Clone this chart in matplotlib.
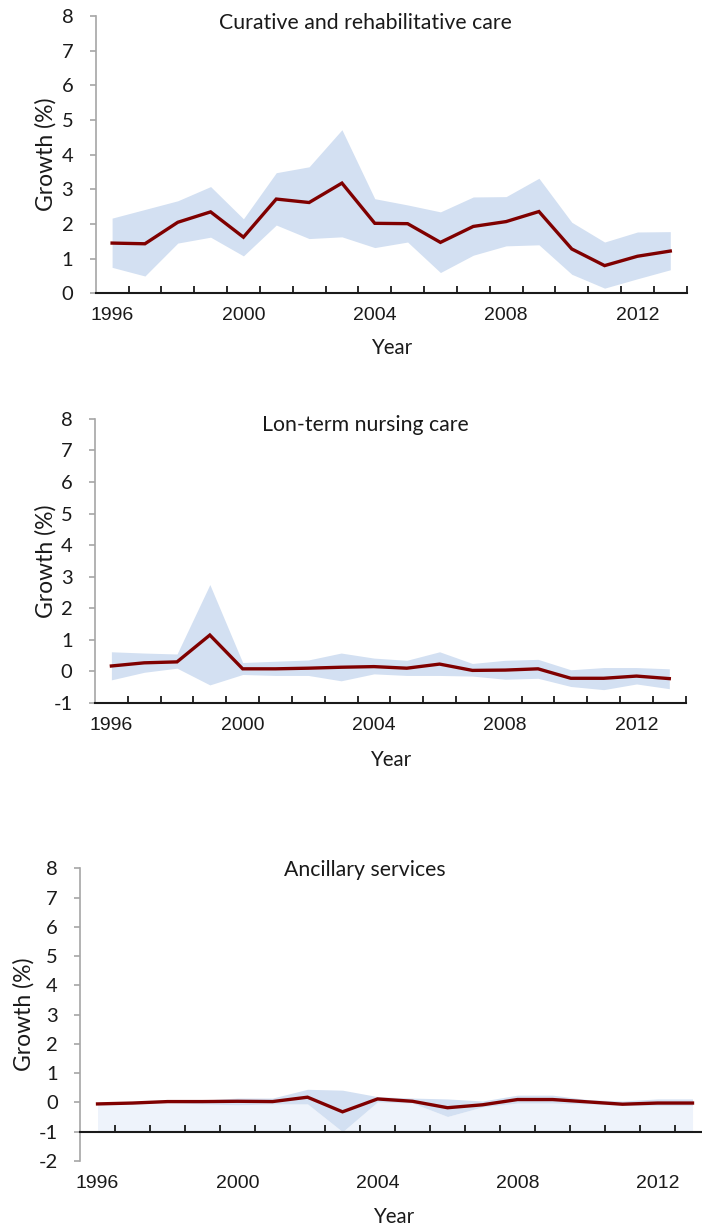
import numpy as np
import matplotlib.pyplot as plt
from matplotlib.ticker import FixedLocator

plt.rcParams['font.family'] = ['Lato', 'DejaVu Sans']
xtick_font = ['Liberation Sans', 'DejaVu Sans']

years = list(range(1996, 2014))
year_labels = ['1996', '2000', '2004', '2008', '2012']

# curative and rehabilitative care
cur_mean = [1.45, 1.43, 2.05, 2.35, 1.62, 2.72, 2.62, 3.18, 2.02, 2.01, 1.47, 1.93, 2.07, 2.36, 1.28, 0.80, 1.07, 1.22]
cur_high = [2.17, 2.42, 2.67, 3.08, 2.15, 3.48, 3.65, 4.72, 2.73, 2.55, 2.35, 2.78, 2.79, 3.32, 2.05, 1.48, 1.77, 1.78]
cur_low = [0.75, 0.50, 1.45, 1.62, 1.08, 1.97, 1.58, 1.63, 1.32, 1.48, 0.60, 1.10, 1.37, 1.40, 0.55, 0.15, 0.42, 0.68]

# long-term nursing care
ltc_mean = [0.17, 0.27, 0.30, 1.15, 0.08, 0.08, 0.10, 0.13, 0.15, 0.10, 0.23, 0.03, 0.04, 0.08, -0.22, -0.22, -0.15, -0.23]
ltc_high = [0.62, 0.58, 0.55, 2.75, 0.28, 0.32, 0.36, 0.58, 0.42, 0.35, 0.62, 0.25, 0.35, 0.38, 0.05, 0.12, 0.12, 0.08]
ltc_low = [-0.27, -0.03, 0.10, -0.43, -0.10, -0.13, -0.13, -0.30, -0.08, -0.13, -0.13, -0.15, -0.25, -0.22, -0.48, -0.58, -0.40, -0.55]

# ancillary services
anc_mean = [-0.05, -0.02, 0.03, 0.03, 0.04, 0.03, 0.18, -0.32, 0.12, 0.04, -0.18, -0.08, 0.10, 0.10, 0.02, -0.06, -0.02, -0.02]
anc_high = [-0.02, 0.00, 0.05, 0.08, 0.15, 0.15, 0.45, 0.42, 0.20, 0.15, 0.12, 0.05, 0.25, 0.25, 0.10, 0.05, 0.12, 0.12]
anc_low = [-0.08, -0.05, 0.00, -0.05, -0.08, -0.05, -0.05, -1.00, 0.02, -0.02, -0.48, -0.15, -0.02, -0.02, -0.05, -0.10, -0.10, -0.10]

panels = [
    dict(title='Curative and rehabilitative care', mean=cur_mean, high=cur_high, low=cur_low,
         ylim=(0, 8), cross=0, rect=[0.1363, 0.7617, 0.8419, 0.2253], base_fill=None,
         title_y=23, ylab_x=46, year_y=348),
    dict(title='Lon-term nursing care', mean=ltc_mean, high=ltc_high, low=ltc_low,
         ylim=(-1, 8), cross=-1, rect=[0.1353, 0.4290, 0.8415, 0.2307], base_fill=None,
         title_y=425, ylab_x=46, year_y=760),
    dict(title='Ancillary services', mean=anc_mean, high=anc_high, low=anc_low,
         ylim=(-2, 8), cross=-1, rect=[0.1140, 0.0569, 0.8974, 0.2376], base_fill='#eef3fb',
         title_y=870, ylab_x=24, year_y=1217),
]

W, H = 702, 1231
fig = plt.figure(figsize=(W / 100, H / 100), dpi=100)

band = '#d3e0f2'
red = '#7f0000'
grey = '#a6a6a6'
ink = '#1a1a1a'

for p in panels:
    ax = fig.add_axes(p['rect'])
    x = np.arange(len(years))
    if p['base_fill']:
        ax.fill_between(x, p['cross'], p['low'], color=p['base_fill'], lw=0)
    ax.fill_between(x, p['low'], p['high'], color=band, lw=0)
    ax.plot(x, p['mean'], color=red, lw=2.4, solid_joinstyle='miter')

    ax.set_xlim(-0.5, len(years) - 0.5)
    ax.set_ylim(*p['ylim'])
    ax.set_yticks(range(p['ylim'][0], 9))
    ax.set_yticklabels([str(v) for v in range(p['ylim'][0], 9)], fontsize=14.5)

    for s in ['top', 'right']:
        ax.spines[s].set_visible(False)
    ax.spines['left'].set_color(grey)
    ax.spines['left'].set_linewidth(1.2)
    ax.spines['bottom'].set_color(ink)
    ax.spines['bottom'].set_linewidth(1.5)
    ax.spines['bottom'].set_position(('data', p['cross']))

    ax.xaxis.set_major_locator(FixedLocator(np.arange(0.5, len(years), 1.0)))
    ax.tick_params(axis='x', direction='in', length=5, width=1.3, color=ink, labelbottom=False)
    ax.tick_params(axis='y', direction='out', length=4.6, width=1.2, color=grey, pad=11.5,
                   labelcolor=ink)

    sec = ax.secondary_xaxis(0.0)
    sec.set_xticks([years.index(int(l)) for l in year_labels])
    sec.set_xticklabels(year_labels, family=xtick_font, fontsize=14)
    sec.tick_params(length=0, pad=10, labelcolor=ink)
    sec.spines['bottom'].set_visible(False)

    l, b, w, h = p['rect']
    fig.text(365 / W, 1 - p['title_y'] / H, p['title'], ha='center', va='center', fontsize=15.3, color=ink)
    fig.text(p['ylab_x'] / W, b + h / 2, 'Growth (%)', rotation=90, ha='center', va='center',
             fontsize=16.5, color=ink)
    fig.text((l + w / 2) if l + w <= 1 else 394 / W, 1 - p['year_y'] / H, 'Year',
             ha='center', va='center', fontsize=14.8, color=ink)

fig.savefig('out.png', dpi=100)
